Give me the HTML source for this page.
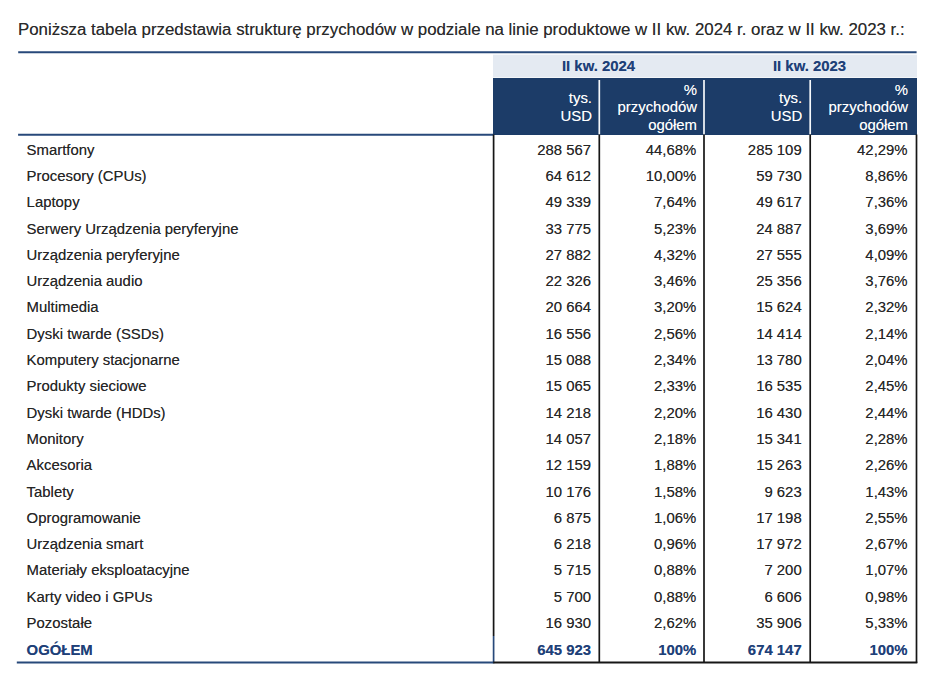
<!DOCTYPE html>
<html><head><meta charset="utf-8">
<style>
html,body{margin:0;padding:0;background:#fff;}
body{width:945px;height:683px;position:relative;overflow:hidden;font-family:"Liberation Sans",sans-serif;color:#222;}
.abs{position:absolute;}
#title{position:absolute;left:18px;top:20px;font-size:16.85px;line-height:20px;white-space:nowrap;color:#2a2a2a;text-shadow:0 0 0.3px rgba(42,42,42,.55);}
.row{position:absolute;left:0;width:945px;height:26px;line-height:26px;font-size:14.9px;white-space:nowrap;color:#262626;}
.row{text-shadow:0 0 .3px rgba(38,38,38,.55);}
.row.tot,.gh{text-shadow:0 0 .3px rgba(30,64,120,.55) !important;}
.hd{text-shadow:0 0 .3px rgba(255,255,255,.5);}
.row .lbl{position:absolute;left:26.6px;top:0;}
.row .num{position:absolute;top:0;width:100px;text-align:right;}
.row.tot{font-weight:bold;color:#1e4078;}
.hd{position:absolute;color:#fff;font-size:14.9px;line-height:17.6px;text-align:right;white-space:nowrap;}
.gh{position:absolute;color:#1e4078;font-weight:bold;font-size:14.9px;line-height:23px;text-align:center;white-space:nowrap;}
svg{position:absolute;left:0;top:0;}
</style></head><body>
<div id="title">Poniższa tabela przedstawia strukturę przychodów w podziale na linie produktowe w II kw. 2024 r. oraz w II kw. 2023 r.:</div>

<!-- light group header -->
<div class="abs" style="left:493px;top:54px;width:424px;height:24px;background:#e4eaf2"></div>
<div class="gh" style="left:493px;top:55px;width:211px">II kw. 2024</div>
<div class="gh" style="left:704px;top:55px;width:211px">II kw. 2023</div>
<div class="abs" style="left:493px;top:54px;width:424px;height:1px;background:rgba(255,255,255,.65)"></div>
<div class="abs" style="left:493px;top:77px;width:424px;height:1px;background:rgba(255,255,255,.55)"></div>
<!-- dark header -->
<div class="abs" style="left:493px;top:78px;width:424px;height:56.6px;background:#1c3c68"></div>
<div class="hd" style="left:493px;width:99px;top:88.8px;line-height:18.2px">tys.<br>USD</div>
<div class="hd" style="left:600px;width:97px;top:81.6px">%<br>przychodów<br>ogółem</div>
<div class="hd" style="left:705px;width:97.2px;top:88.8px;line-height:18.2px">tys.<br>USD</div>
<div class="hd" style="left:811px;width:97px;top:81.6px">%<br>przychodów<br>ogółem</div>

<div class="row" style="top:136.60px">
<span class="lbl">Smartfony</span>
<span class="num" style="left:491.1px">288 567</span>
<span class="num" style="left:596.3px">44,68%</span>
<span class="num" style="left:701.7px">285 109</span>
<span class="num" style="left:807.6px">42,29%</span>
</div>
<div class="row" style="top:162.90px">
<span class="lbl">Procesory (CPUs)</span>
<span class="num" style="left:491.1px">64 612</span>
<span class="num" style="left:596.3px">10,00%</span>
<span class="num" style="left:701.7px">59 730</span>
<span class="num" style="left:807.6px">8,86%</span>
</div>
<div class="row" style="top:189.20px">
<span class="lbl">Laptopy</span>
<span class="num" style="left:491.1px">49 339</span>
<span class="num" style="left:596.3px">7,64%</span>
<span class="num" style="left:701.7px">49 617</span>
<span class="num" style="left:807.6px">7,36%</span>
</div>
<div class="row" style="top:215.50px">
<span class="lbl">Serwery Urządzenia peryferyjne</span>
<span class="num" style="left:491.1px">33 775</span>
<span class="num" style="left:596.3px">5,23%</span>
<span class="num" style="left:701.7px">24 887</span>
<span class="num" style="left:807.6px">3,69%</span>
</div>
<div class="row" style="top:241.80px">
<span class="lbl">Urządzenia peryferyjne</span>
<span class="num" style="left:491.1px">27 882</span>
<span class="num" style="left:596.3px">4,32%</span>
<span class="num" style="left:701.7px">27 555</span>
<span class="num" style="left:807.6px">4,09%</span>
</div>
<div class="row" style="top:268.10px">
<span class="lbl">Urządzenia audio</span>
<span class="num" style="left:491.1px">22 326</span>
<span class="num" style="left:596.3px">3,46%</span>
<span class="num" style="left:701.7px">25 356</span>
<span class="num" style="left:807.6px">3,76%</span>
</div>
<div class="row" style="top:294.40px">
<span class="lbl">Multimedia</span>
<span class="num" style="left:491.1px">20 664</span>
<span class="num" style="left:596.3px">3,20%</span>
<span class="num" style="left:701.7px">15 624</span>
<span class="num" style="left:807.6px">2,32%</span>
</div>
<div class="row" style="top:320.70px">
<span class="lbl">Dyski twarde (SSDs)</span>
<span class="num" style="left:491.1px">16 556</span>
<span class="num" style="left:596.3px">2,56%</span>
<span class="num" style="left:701.7px">14 414</span>
<span class="num" style="left:807.6px">2,14%</span>
</div>
<div class="row" style="top:347.00px">
<span class="lbl">Komputery stacjonarne</span>
<span class="num" style="left:491.1px">15 088</span>
<span class="num" style="left:596.3px">2,34%</span>
<span class="num" style="left:701.7px">13 780</span>
<span class="num" style="left:807.6px">2,04%</span>
</div>
<div class="row" style="top:373.30px">
<span class="lbl">Produkty sieciowe</span>
<span class="num" style="left:491.1px">15 065</span>
<span class="num" style="left:596.3px">2,33%</span>
<span class="num" style="left:701.7px">16 535</span>
<span class="num" style="left:807.6px">2,45%</span>
</div>
<div class="row" style="top:399.60px">
<span class="lbl">Dyski twarde (HDDs)</span>
<span class="num" style="left:491.1px">14 218</span>
<span class="num" style="left:596.3px">2,20%</span>
<span class="num" style="left:701.7px">16 430</span>
<span class="num" style="left:807.6px">2,44%</span>
</div>
<div class="row" style="top:425.90px">
<span class="lbl">Monitory</span>
<span class="num" style="left:491.1px">14 057</span>
<span class="num" style="left:596.3px">2,18%</span>
<span class="num" style="left:701.7px">15 341</span>
<span class="num" style="left:807.6px">2,28%</span>
</div>
<div class="row" style="top:452.20px">
<span class="lbl">Akcesoria</span>
<span class="num" style="left:491.1px">12 159</span>
<span class="num" style="left:596.3px">1,88%</span>
<span class="num" style="left:701.7px">15 263</span>
<span class="num" style="left:807.6px">2,26%</span>
</div>
<div class="row" style="top:478.50px">
<span class="lbl">Tablety</span>
<span class="num" style="left:491.1px">10 176</span>
<span class="num" style="left:596.3px">1,58%</span>
<span class="num" style="left:701.7px">9 623</span>
<span class="num" style="left:807.6px">1,43%</span>
</div>
<div class="row" style="top:504.80px">
<span class="lbl">Oprogramowanie</span>
<span class="num" style="left:491.1px">6 875</span>
<span class="num" style="left:596.3px">1,06%</span>
<span class="num" style="left:701.7px">17 198</span>
<span class="num" style="left:807.6px">2,55%</span>
</div>
<div class="row" style="top:531.10px">
<span class="lbl">Urządzenia smart</span>
<span class="num" style="left:491.1px">6 218</span>
<span class="num" style="left:596.3px">0,96%</span>
<span class="num" style="left:701.7px">17 972</span>
<span class="num" style="left:807.6px">2,67%</span>
</div>
<div class="row" style="top:557.40px">
<span class="lbl">Materiały eksploatacyjne</span>
<span class="num" style="left:491.1px">5 715</span>
<span class="num" style="left:596.3px">0,88%</span>
<span class="num" style="left:701.7px">7 200</span>
<span class="num" style="left:807.6px">1,07%</span>
</div>
<div class="row" style="top:583.70px">
<span class="lbl">Karty video i GPUs</span>
<span class="num" style="left:491.1px">5 700</span>
<span class="num" style="left:596.3px">0,88%</span>
<span class="num" style="left:701.7px">6 606</span>
<span class="num" style="left:807.6px">0,98%</span>
</div>
<div class="row" style="top:610.00px">
<span class="lbl">Pozostałe</span>
<span class="num" style="left:491.1px">16 930</span>
<span class="num" style="left:596.3px">2,62%</span>
<span class="num" style="left:701.7px">35 906</span>
<span class="num" style="left:807.6px">5,33%</span>
</div>
<div class="row tot" style="top:637.10px">
<span class="lbl">OGÓŁEM</span>
<span class="num" style="left:491.1px">645 923</span>
<span class="num" style="left:596.3px">100%</span>
<span class="num" style="left:701.7px">674 147</span>
<span class="num" style="left:807.6px">100%</span>
</div>

<svg width="945" height="683" viewBox="0 0 945 683">
  <!-- dark header bottom edge (sub-pixel) -->
  <rect x="493" y="134" width="424" height="0.7" fill="#1c3c68"/>
  <!-- white separators in header -->
  <g stroke="#f6f8fb" stroke-width="1.7">
    <line x1="599.3" y1="80" x2="599.3" y2="134.5"/>
    <line x1="704.0" y1="80" x2="704.0" y2="134.5"/>
    <line x1="810.2" y1="80" x2="810.2" y2="134.5"/>
  </g>
  <!-- blue rules -->
  <g stroke="#27497a" stroke-width="2">
    <line x1="18.2" y1="52.3" x2="916.6" y2="52.3"/>
    <line x1="18.1" y1="134.8" x2="493.2" y2="134.8" stroke-width="1.9"/>
    <line x1="16.8" y1="662.5" x2="493.2" y2="662.5" stroke-width="1.9"/>
    <line x1="493.6" y1="636" x2="493.6" y2="663.4" stroke-width="1.7"/>
  </g>
  <!-- black body borders -->
  <g stroke="#161616" stroke-width="1.7">
    <line x1="493.6" y1="134.6" x2="493.6" y2="636"/>
    <line x1="599.3" y1="134.6" x2="599.3" y2="663"/>
    <line x1="704.0" y1="134.6" x2="704.0" y2="663"/>
    <line x1="810.2" y1="134.6" x2="810.2" y2="663"/>
    <line x1="916.5" y1="134.6" x2="916.5" y2="663"/>
    <line x1="493.2" y1="662.5" x2="917.3" y2="662.5" stroke-width="1.8"/>
  </g>
</svg>
</body></html>
